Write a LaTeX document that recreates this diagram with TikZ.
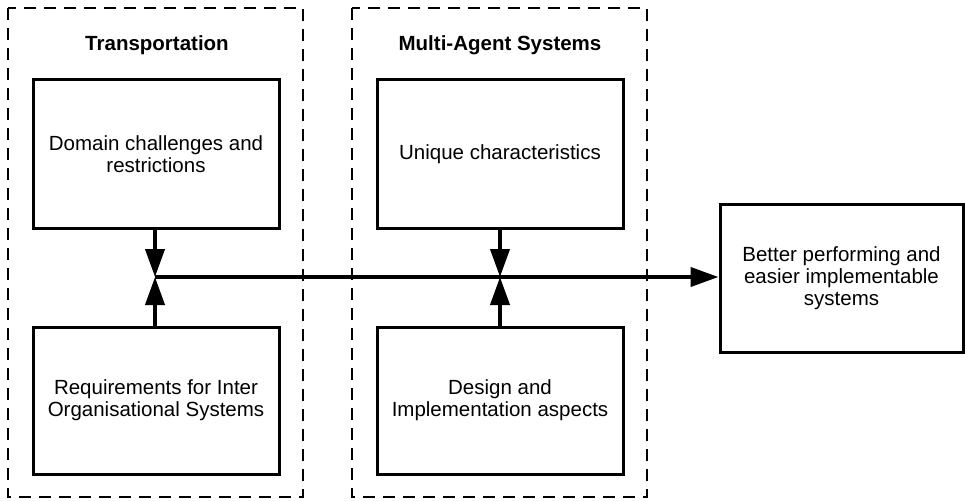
\documentclass[tikz,border=0pt]{standalone}
\usepackage{fontspec}
\setmainfont{Liberation Sans}
\usetikzlibrary{arrows.meta}
\begin{document}
\begin{tikzpicture}[x=1pt,y=-1pt,
  group/.style={draw,line width=1.8pt,dash pattern=on 12pt off 8pt},
  boxnode/.style={draw,line width=3pt,align=center,inner sep=0pt,
    font=\fontsize{20.5}{22}\selectfont},
  title/.style={font=\fontsize{20.5}{22}\selectfont\bfseries},
  flow/.style={line width=4pt,-{Triangle[length=28pt,width=19pt]}}]
\useasboundingbox (0,0) rectangle (965,500);
\draw[group] (8,8) rectangle (303,497);
\draw[group] (352,8) rectangle (647,497);
\node[title] (t1) at (157,45) {Transportation};
\node[title] (t2) at (500,45) {Multi-Agent Systems};
\node[boxnode,minimum width=246pt,minimum height=148pt] (b1) at (156,154) {Domain challenges and\\restrictions};
\node[boxnode,minimum width=246pt,minimum height=147pt] (b2) at (156,400.5) {Requirements for Inter\\Organisational Systems};
\node[boxnode,minimum width=246pt,minimum height=148pt] (m1) at (500,154) {Unique characteristics};
\node[boxnode,minimum width=246pt,minimum height=147pt] (m2) at (500,400.5) {Design and\\Implementation aspects};
\node[boxnode,minimum width=243pt,minimum height=148pt] (r) at (841.5,278) {Better performing and\\easier implementable\\systems};
\coordinate (j1) at (155,277);
\coordinate (j2) at (500,277);
\draw[flow] (b1.south -| j1) -- (j1);
\draw[flow] (b2.north -| j1) -- (j1);
\draw[flow] (m1.south) -- (j2);
\draw[flow] (m2.north) -- (j2);
\draw[flow] (j1) -- (r.west |- j1);
\end{tikzpicture}
\end{document}
